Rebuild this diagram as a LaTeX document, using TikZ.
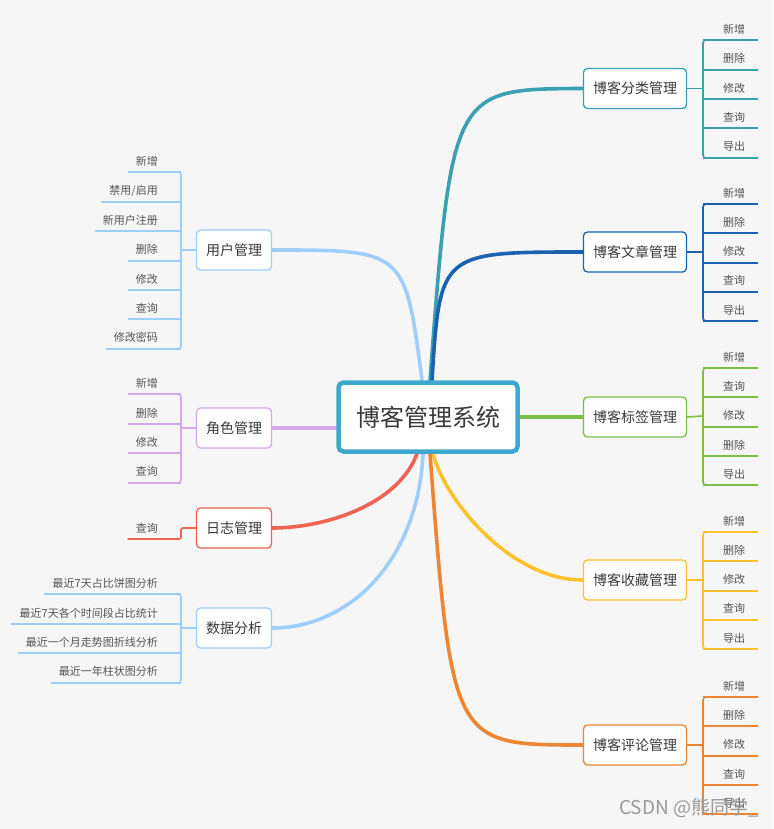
\documentclass[tikz,border=0pt]{standalone}
\usepackage{fontspec}
\setmainfont{Noto Sans CJK SC}
\definecolor{bgc}{HTML}{F6F6F6}
\definecolor{ccenter}{HTML}{3FA8CE}
\definecolor{cteal}{HTML}{3AA0B2}
\definecolor{cblue}{HTML}{1A63B0}
\definecolor{cgreen}{HTML}{7DBF45}
\definecolor{cyellow}{HTML}{FFC12E}
\definecolor{corange}{HTML}{EE8533}
\definecolor{clight}{HTML}{9FCEFA}
\definecolor{cpurple}{HTML}{D5A8EE}
\definecolor{cred}{HTML}{EE6352}
\definecolor{txt}{HTML}{3A3A3A}
\definecolor{leaftxt}{HTML}{555555}
\pgfdeclarelayer{bg}
\pgfsetlayers{bg,main}
\tikzset{
 branch/.style={draw=#1, fill=white, line width=1.3pt, rounded corners=4pt, minimum width=103pt, minimum height=40pt, inner sep=0pt, font=\fontsize{14}{16}\selectfont, text=txt},
 lbranch/.style={branch=#1, minimum width=75pt},
 leaf/.style={font=\fontsize{11}{13}\selectfont, text=leaftxt, inner ysep=0pt, inner xsep=8pt},
 conn/.style={draw=#1, line width=3.6pt, line cap=round},
 twig/.style={draw=#1, line width=1.6pt},
}
\newcommand\myRightGroup[4]{%
 \pgfmathsetmacro\rgTop{round(#2+10.5-58.6)}%
 \pgfmathsetmacro\rgBot{round(#2+10.5+58.6)}%
 \draw[twig=#3, rounded corners=3pt] (712,\rgTop) -- (703,\rgTop) -- (703,\rgBot) -- (712,\rgBot);
 \draw[twig=#3] (#1.east) -- (703,#2);
 \foreach \t [count=\i] in {#4} {
  \pgfmathsetmacro\ty{#2-0.5+29.3*(\i-3)}
  \pgfmathsetmacro\ly{round(\ty+11)}
  \node[leaf] (#1-\i) at (734,\ty) {\t};
  \draw[twig=#3] (703,\ly) -- (758,\ly);
 }
}
\newcommand\myLeftGroup[5]{%
 \pgfmathsetmacro\lgTop{round(#2-0.5+29.4*(1-(#4+1)/2)+11)}%
 \pgfmathsetmacro\lgBot{round(#2-0.5+29.4*(#4-(#4+1)/2)+11)}%
 \draw[twig=#3, rounded corners=3pt] (172,\lgTop) -- (181,\lgTop) -- (181,\lgBot) -- (172,\lgBot);
 \draw[twig=#3] (#1.west) -- (181,#2);
 \foreach \t [count=\i] in {#5} {
  \pgfmathsetmacro\ty{#2-0.5+29.4*(\i-(#4+1)/2)}
  \pgfmathsetmacro\ly{round(\ty+11)}
  \node[leaf, anchor=east] (#1-\i) at (166,\ty) {\t};
  \draw[twig=#3] (#1-\i.west |- 0,\ly) -- (181,\ly);
 }
}
\begin{document}
\begin{tikzpicture}[x=1pt,y=-1pt]
\begin{pgfonlayer}{bg}
\fill[bgc] (0,0) rectangle (773,829);
\end{pgfonlayer}
\useasboundingbox (0,0) rectangle (773,829);

% root
\node[draw=ccenter, line width=4.5pt, rounded corners=5pt, fill=white, minimum width=179pt, minimum height=69pt, inner sep=0pt, font=\fontsize{24}{28}\selectfont, text=txt] (root) at (428,417) {博客管理系统};

% right branches
\node[branch=cteal] (b1) at (635,88.5) {博客分类管理};
\node[branch=cblue] (b2) at (635,252) {博客文章管理};
\node[branch=cgreen] (b3) at (635,417) {博客标签管理};
\node[branch=cyellow] (b4) at (635,580) {博客收藏管理};
\node[branch=corange] (b5) at (635,745) {博客评论管理};

% left branches
\node[lbranch=clight] (l1) at (234,250) {用户管理};
\node[lbranch=cpurple] (l2) at (234,428) {角色管理};
\node[lbranch=cred] (l3) at (234,528) {日志管理};
\node[lbranch=clight] (l4) at (234,628) {数据分析};

% leaves
\myRightGroup{b1}{88.5}{cteal}{新增,删除,修改,查询,导出}
\myRightGroup{b2}{252}{cblue}{新增,删除,修改,查询,导出}
\myRightGroup{b3}{416}{cgreen}{新增,查询,修改,删除,导出}
\myRightGroup{b4}{580}{cyellow}{新增,删除,修改,查询,导出}
\myRightGroup{b5}{745}{corange}{新增,删除,修改,查询,导出}

\myLeftGroup{l1}{250}{clight}{7}{新增,{禁用/启用},新用户注册,删除,修改,查询,修改密码}
\myLeftGroup{l2}{428}{cpurple}{4}{新增,删除,修改,查询}
\myLeftGroup{l4}{628}{clight}{4}{最近7天占比饼图分析,最近7天各个时间段占比统计,最近一个月走势图折线分析,最近一年柱状图分析}

\node[leaf, anchor=east] (l3-1) at (166,528) {查询};
\draw[twig=cred, rounded corners=2pt] (l3-1.west |- 0,539) -- (181,539) -- (181,528) -- (l3.west);

% connectors
\begin{pgfonlayer}{bg}
\draw[conn=cteal] ([xshift=2pt]root.north) .. controls (452,89) .. (b1.west);
\draw[conn=cblue] ([xshift=4pt]root.north) .. controls (440,252) .. (b2.west);
\draw[conn=cgreen] (root.east) -- (b3.west);
\draw[conn=cyellow] ([xshift=5pt]root.south) .. controls (445,500) and (510,580) .. (b4.west);
\draw[conn=corange] ([xshift=2pt]root.south) .. controls (452,745) .. (b5.west);
\draw[conn=clight] ([xshift=-6pt]root.north) .. controls (405,250) .. (l1.east);
\draw[conn=cpurple] (root.west |- l2.east) -- (l2.east);
\draw[conn=cred] ([xshift=-11pt]root.south) .. controls (398,505) and (325,528) .. (l3.east);
\draw[conn=clight] ([xshift=-5pt]root.south) .. controls (418,560) and (350,628) .. (l4.east);
\end{pgfonlayer}

% watermark
\node[font=\fontsize{19}{21}\selectfont, text=gray!80, anchor=east, inner sep=0pt] (wm) at (759,808) {CSDN @熊同学\_};
\end{tikzpicture}
\end{document}
